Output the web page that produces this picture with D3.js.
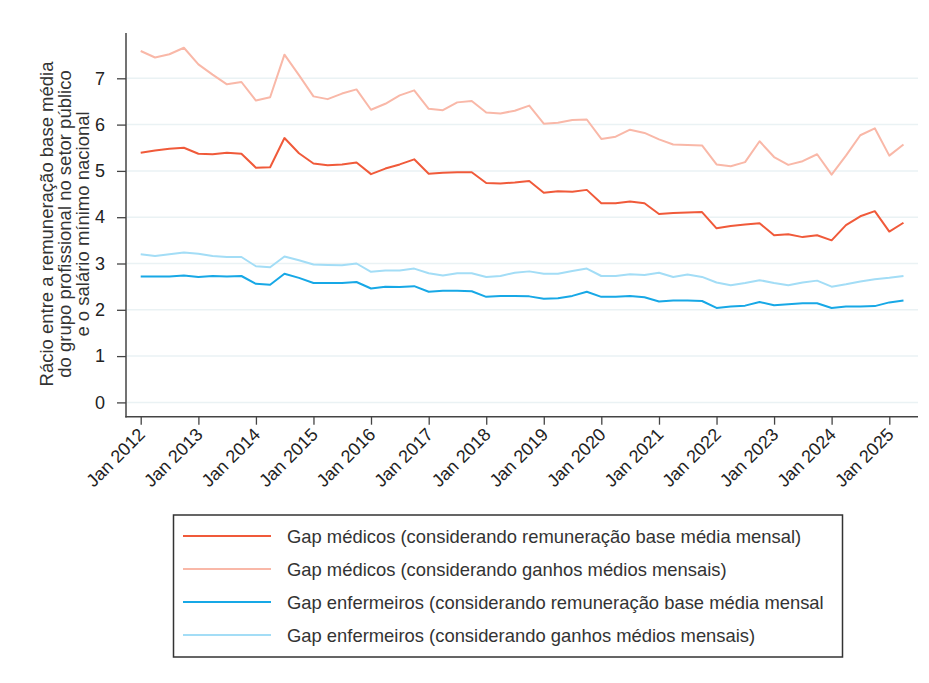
<!DOCTYPE html>
<html>
<head>
<meta charset="utf-8">
<script src="https://cdn.jsdelivr.net/npm/d3@7"></script>
<style>
  body { margin: 0; background: #fff; }
  text { font-family: "Liberation Sans", Arial, sans-serif; fill: #333; }
</style>
</head>
<body>
<div id="chart"></div>
<script>
// chart size
const width = 929;
const height = 683;

// quarterly periods, Jan 2012 .. Apr 2025
const periods = d3.timeMonth.range(new Date(2012, 0, 1), new Date(2025, 6, 1), 3);

// ratios
const medBase = [5.39, 5.44, 5.48, 5.50, 5.37, 5.36, 5.39, 5.37, 5.07, 5.08, 5.71, 5.38, 5.16, 5.12, 5.14, 5.18,
  4.93, 5.05, 5.14, 5.25, 4.94, 4.96, 4.97, 4.97, 4.74, 4.73, 4.75, 4.78, 4.53, 4.56, 4.55, 4.59,
  4.30, 4.30, 4.34, 4.30, 4.07, 4.09, 4.10, 4.11, 3.76, 3.81, 3.84, 3.87, 3.61, 3.63, 3.57, 3.61,
  3.50, 3.83, 4.02, 4.13, 3.69, 3.88];
const medGanhos = [7.59, 7.45, 7.52, 7.66, 7.30, 7.08, 6.87, 6.92, 6.52, 6.59, 7.51, 7.07, 6.61, 6.55, 6.67, 6.76,
  6.32, 6.45, 6.63, 6.74, 6.34, 6.31, 6.48, 6.51, 6.26, 6.24, 6.30, 6.41, 6.02, 6.04, 6.10, 6.11,
  5.69, 5.74, 5.89, 5.82, 5.68, 5.57, 5.56, 5.55, 5.14, 5.10, 5.19, 5.64, 5.30, 5.13, 5.21, 5.36,
  4.92, 5.33, 5.77, 5.92, 5.33, 5.57];
const enfBase = [2.72, 2.72, 2.72, 2.74, 2.71, 2.73, 2.72, 2.73, 2.56, 2.54, 2.78, 2.69, 2.58, 2.58, 2.58, 2.60,
  2.46, 2.50, 2.49, 2.51, 2.39, 2.41, 2.41, 2.40, 2.28, 2.30, 2.30, 2.29, 2.24, 2.25, 2.30, 2.39,
  2.28, 2.28, 2.30, 2.27, 2.18, 2.20, 2.20, 2.19, 2.04, 2.07, 2.09, 2.17, 2.10, 2.12, 2.14, 2.14,
  2.04, 2.07, 2.07, 2.08, 2.16, 2.20];
const enfGanhos = [3.20, 3.16, 3.20, 3.24, 3.21, 3.16, 3.14, 3.14, 2.94, 2.92, 3.15, 3.07, 2.98, 2.97, 2.96, 3.00,
  2.82, 2.85, 2.85, 2.89, 2.79, 2.74, 2.79, 2.79, 2.71, 2.73, 2.80, 2.83, 2.78, 2.78, 2.84, 2.89,
  2.73, 2.73, 2.77, 2.75, 2.80, 2.71, 2.76, 2.71, 2.59, 2.53, 2.58, 2.64, 2.58, 2.53, 2.59, 2.63,
  2.50, 2.55, 2.61, 2.66, 2.69, 2.73];

const seriesNames = [
  "Gap médicos (considerando remuneração base média mensal)",
  "Gap médicos (considerando ganhos médios mensais)",
  "Gap enfermeiros (considerando remuneração base média mensal",
  "Gap enfermeiros (considerando ganhos médios mensais)"
];
const seriesColors = ["#f05a3a", "#f9b8a8", "#17a8e6", "#a3ddf6"];
const seriesValues = [medBase, medGanhos, enfBase, enfGanhos];

const yTicks = [0, 1, 2, 3, 4, 5, 6, 7];
const xTickYears = d3.range(2012, 2026);

const svg = d3.select("#chart").append("svg")
  .attr("width", width)
  .attr("height", height);

// scales; axis lines are drawn a bit past first / last tick like the original
const x = d3.scaleTime()
  .domain([new Date(2012, 0, 1), new Date(2025, 0, 1)])
  .range([140.7, 889.3]);
const y = d3.scaleLinear()
  .domain([0, 7])
  .range([402.4, 78.3]);
const plotLeft = 126, plotRight = 918, plotTop = 33, plotBottom = 416.7;

// gridlines
svg.append("g")
  .selectAll("line")
  .data(yTicks)
  .join("line")
  .attr("x1", plotLeft + 1).attr("x2", plotRight)
  .attr("y1", d => y(d)).attr("y2", d => y(d))
  .attr("stroke", "#eaf2f4")
  .attr("stroke-width", 1.5);

// y axis
const yAxis = svg.append("g")
  .attr("transform", `translate(${plotLeft},0)`)
  .call(d3.axisLeft(y).tickValues(yTicks).tickSize(9).tickPadding(12).tickFormat(d3.format("d")));
yAxis.select(".domain").remove();
yAxis.append("line")
  .attr("x1", 0).attr("x2", 0)
  .attr("y1", plotTop).attr("y2", plotBottom + 0.8)
  .attr("stroke", "#444").attr("stroke-width", 1.5);
yAxis.selectAll(".tick line").attr("stroke", "#444").attr("stroke-width", 1.3);
yAxis.selectAll(".tick text").attr("font-size", 18).style("fill", "#222");

// x axis
const xAxis = svg.append("g")
  .attr("transform", `translate(0,${plotBottom})`)
  .call(d3.axisBottom(x)
    .tickValues(xTickYears.map(yr => new Date(yr, 0, 1)))
    .tickSize(8)
    .tickFormat(d => "Jan " + d.getFullYear()));
xAxis.select(".domain").remove();
xAxis.append("line")
  .attr("x1", plotLeft - 0.7).attr("x2", plotRight)
  .attr("stroke", "#444").attr("stroke-width", 1.5);
xAxis.selectAll(".tick line").attr("stroke", "#444").attr("stroke-width", 1.3);
xAxis.selectAll(".tick text")
  .attr("font-size", 18)
  .style("fill", "#222")
  .attr("text-anchor", "end")
  .attr("dy", null)
  .attr("y", 0)
  .attr("transform", "translate(5,19) rotate(-45)");

// y title
const yTitle = ["Rácio entre a remuneração base média",
  "do grupo profissional no setor público",
  "e o salário mínimo nacional"];
svg.append("g")
  .selectAll("text")
  .data(yTitle)
  .join("text")
  .attr("transform", (d, i) => `translate(${46 + i * 18.4},224) rotate(-90)`)
  .attr("text-anchor", "middle")
  .attr("dominant-baseline", "central")
  .attr("font-size", 18.5)
  .text(d => d);

// series lines
const line = d3.line()
  .x((d, i) => x(periods[i]))
  .y(d => y(d));

svg.append("g")
  .selectAll("path")
  .data(seriesValues)
  .join("path")
  .attr("fill", "none")
  .attr("stroke", (d, i) => seriesColors[i])
  .attr("stroke-width", 2)
  .attr("stroke-linejoin", "round")
  .attr("d", line);

// legend
const legend = svg.append("g");
legend.append("rect")
  .attr("x", 173.5).attr("y", 515)
  .attr("width", 669).attr("height", 142)
  .attr("fill", "none")
  .attr("stroke", "#333")
  .attr("stroke-width", 1.5);

const rows = legend.selectAll("g.row")
  .data(seriesNames)
  .join("g")
  .attr("class", "row")
  .attr("transform", (d, i) => `translate(0,${536 + i * 33})`);
rows.append("line")
  .attr("x1", 183).attr("x2", 271)
  .attr("stroke", (d, i) => seriesColors[i])
  .attr("stroke-width", 2);
rows.append("text")
  .attr("x", 287)
  .attr("dominant-baseline", "central")
  .attr("font-size", 18.4)
  .text(d => d);
</script>
</body>
</html>
